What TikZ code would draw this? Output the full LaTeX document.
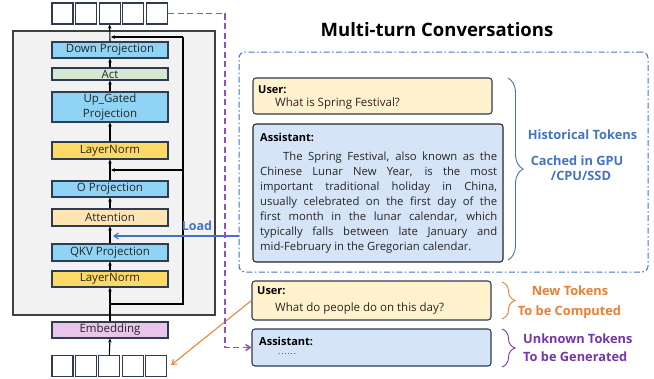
\documentclass[tikz,border=0pt]{standalone}
\usepackage{fontspec}
\setmainfont{Open Sans}
\usetikzlibrary{arrows.meta,decorations.pathreplacing,calc}

\definecolor{navy}{HTML}{2F3B55}
\definecolor{projblue}{HTML}{8FD4F5}
\definecolor{actgreen}{HTML}{D5E8D4}
\definecolor{lnyellow}{HTML}{FFD966}
\definecolor{attnorange}{HTML}{FFE5B4}
\definecolor{embpink}{HTML}{E9C6E9}
\definecolor{usercol}{HTML}{FFF2CC}
\definecolor{asstcol}{HTML}{D6E4F8}
\definecolor{histblue}{HTML}{4472C4}
\definecolor{neworange}{HTML}{ED7D31}
\definecolor{genpurple}{HTML}{7435AD}
\definecolor{linkpurple}{HTML}{8E4FC8}
\definecolor{blockgray}{HTML}{F2F2F2}
\definecolor{bodytext}{HTML}{262626}

\tikzset{
  layer/.style={draw=navy, line width=1.1pt, minimum width=116pt, inner sep=0pt,
    font=\fontsize{11.5}{12}\selectfont, text=bodytext, align=center},
  tok/.style={draw=navy, line width=1.2pt, fill=white, minimum width=21pt,
    minimum height=21pt, inner sep=0pt},
  arr/.style={line width=1.1pt, -{Stealth[length=4pt,width=3.6pt]}},
  openarr/.style={-{Straight Barb[length=4.5pt,width=6pt]}},
  chatbox/.style={draw=navy, line width=1.1pt, rounded corners=3pt, inner sep=0pt},
  spk/.style={font=\fontsize{11}{12}\selectfont\bfseries, anchor=west, inner sep=0pt},
  msg/.style={font=\fontsize{11.5}{12}\selectfont, text=bodytext, anchor=west, inner sep=0pt},
  sidenote/.style={font=\fontsize{12.8}{15}\selectfont\bfseries, inner sep=0pt},
  bracestyle/.style={decorate, line width=0.9pt},
}

\begin{document}
\begin{tikzpicture}[x=1pt,y=-1pt]
\useasboundingbox (0,0) rectangle (654,378);

% transformer block background
\node[draw=black!75, fill=blockgray, line width=1.2pt, minimum width=202pt,
      minimum height=284pt, inner sep=0pt] (block) at (114,173) {};

% layers of the block
\node[layer, fill=projblue, minimum height=16pt] (down) at (110,50) {Down Projection};
\node[layer, fill=actgreen, minimum height=12pt] (act) at (110,74) {Act};
\node[layer, fill=projblue, minimum height=30pt, font=\fontsize{11.5}{14.5}\selectfont] (upg) at (110,107) {Up\_Gated\\Projection};
\node[layer, fill=lnyellow, minimum height=17pt] (ln1) at (110,150.5) {LayerNorm};
\node[layer, fill=projblue, minimum height=16pt] (oproj) at (110,189) {O Projection};
\node[layer, fill=attnorange, minimum height=17pt] (attn) at (110,217.5) {Attention};
\node[layer, fill=projblue, minimum height=17pt] (qkv) at (110,252.5) {QKV Projection};
\node[layer, fill=lnyellow, minimum height=16pt] (ln2) at (110,279) {LayerNorm};
\node[layer, fill=embpink, minimum height=16pt] (emb) at (110,330) {Embedding};

% token rows
\foreach \i in {0,...,4} {
  \node[tok] (top\i) at (62.5+23.6*\i,13.5) {};
  \node[tok] (bot\i) at (62.5+23.4*\i,366) {};
}

% data flow through the column
\draw[arr] (bot2.north) -- (emb.south);
\draw[arr] (emb.north) -- (ln2.south);
\draw[arr] (ln2.north) -- (qkv.south);
\draw[arr] (qkv.north) -- (attn.south);
\draw[arr] (attn.north) -- (oproj.south);
\draw[arr] (oproj.north) -- (ln1.south);
\draw[arr] (ln1.north) -- (upg.south);
\draw[arr] (upg.north) -- (act.south);
\draw[arr] (act.north) -- (down.south);
\draw[arr] (down.north) -- (top2.south);

% residual connections
\coordinate (resin) at (110,304);
\coordinate (resmid) at (111,170);
\coordinate (restop) at (111,37);
\coordinate (rescorner) at (183,37);
\draw[line width=1.1pt] (resin) -| (rescorner);
\draw[arr] (rescorner) -- (restop);
\draw[arr] (rescorner |- resmid) -- (resmid);

% title
\node[font=\fontsize{18.5}{20}\selectfont\bfseries] (title) at (437,30) {Multi-turn Conversations};

% cached history region
\node[draw=histblue, line width=1pt, rounded corners=6pt, minimum width=409pt,
      minimum height=220pt, inner sep=0pt,
      dash pattern=on 6pt off 2.5pt on 1.5pt off 2.5pt] (hist) at (443.5,162) {};

\node[chatbox, fill=usercol, minimum width=239pt, minimum height=36pt] (user1) at (372.5,96) {};
\node[spk] (user1spk) at (258,90) {User:};
\node[msg] (user1msg) at (275,103.5) {What is Spring Festival?};

\node[chatbox, draw=black!85, fill=asstcol, minimum width=250pt, minimum height=138pt] (asst1) at (378,193) {};
\node[spk] (asst1spk) at (260,137) {Assistant:};
\node[anchor=north west, inner sep=0pt, text width=237pt, align=justify, text=bodytext,
      font=\fontsize{11.3}{15}\selectfont] (asst1msg) at (260,152)
  {\hspace*{23pt}The Spring Festival, also known as the\linebreak
   Chinese Lunar New Year, is the most\linebreak
   important traditional holiday in China,\linebreak
   usually celebrated on the first day of the\linebreak
   first month in the lunar calendar, which\linebreak
   typically falls between late January and\linebreak
   mid-February in the Gregorian calendar.};

% new turn
\node[chatbox, fill=usercol, minimum width=239pt, minimum height=39pt] (user2) at (371.5,300.5) {};
\node[spk] (user2spk) at (257,291) {User:};
\node[msg] (user2msg) at (275,309) {What do people do on this day?};

\node[chatbox, fill=asstcol, minimum width=239pt, minimum height=37pt] (asst2) at (371.5,347.5) {};
\node[spk] (asst2spk) at (259,341) {Assistant:};
\node[anchor=west, inner sep=0pt, text=bodytext, font=\fontsize{8}{8}\selectfont] (asst2msg) at (278,354) {.\kern1pt.\kern1pt.\kern1pt.\kern1pt.\kern1pt.};

% braces and their notes
\draw[histblue, bracestyle, decoration={brace, amplitude=15pt}] (508,78) -- (508,260);
\node[sidenote, text=histblue] (histlbl) at (582.5,135) {Historical Tokens};
\node[sidenote, text=histblue, align=center] (cachelbl) at (577,168) {Cached in GPU\\\hspace*{8pt}/CPU/SSD};

\draw[neworange, bracestyle, decoration={brace, amplitude=13pt}] (502,282) -- (502,319);
\node[sidenote, text=neworange] (newlbl) at (570,291) {New Tokens};
\node[sidenote, text=neworange] (complbl) at (569.5,312) {To be Computed};

\draw[genpurple, bracestyle, decoration={brace, amplitude=13pt}] (502,329) -- (502,367);
\node[sidenote, text=genpurple, anchor=west] (unklbl) at (523,339) {Unknown Tokens};
\node[sidenote, text=genpurple, anchor=west] (genlbl) at (523,357) {To be Generated};

% loading cached keys/values into attention
\coordinate (loadtip) at (113,236);
\draw[histblue, line width=1.1pt, openarr] (loadtip -| hist.west) -- (loadtip);
\node[font=\fontsize{12.5}{13}\selectfont\bfseries, text=histblue, inner sep=0pt] (loadlbl) at (197,226) {Load};

% new prompt enters as input tokens
\draw[neworange, line width=1pt, openarr] (user2.west) -- ($(bot4.east)+(4,-1)$);

% generated tokens feed back as the next response
\draw[linkpurple, line width=1.5pt, dash pattern=on 6pt off 3.5pt, openarr]
  (top4.east) -- ++(57,0) |- (asst2.west);
\end{tikzpicture}
\end{document}
